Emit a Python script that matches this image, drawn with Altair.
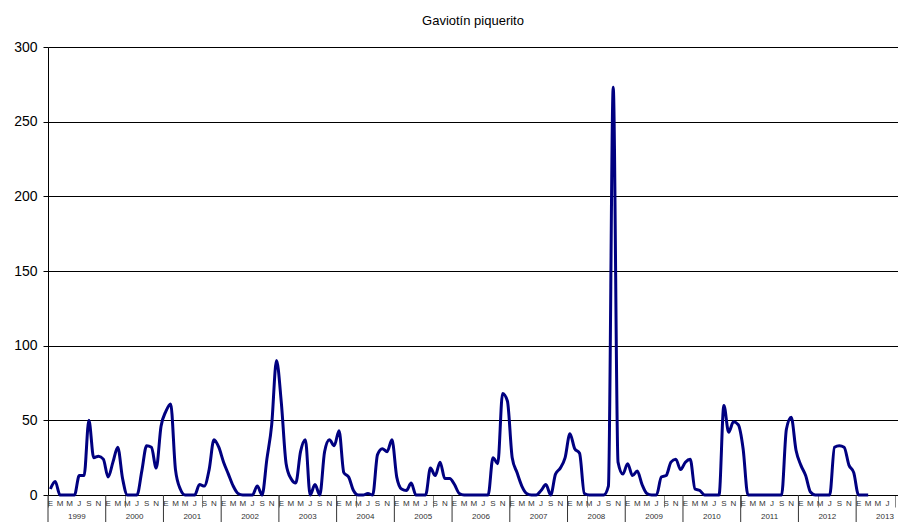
import altair as alt
import pandas as pd

# Monthly counts (Jan 1999 .. Mar 2013)
y1999 = [4, 9, 0, 0, 0, 0, 13, 13, 50, 25, 26, 24]
y2000 = [12, 22, 32, 11, 0, 0, 0, 16, 33, 32, 18, 46]
y2001 = [56, 61, 17, 4, 0, 0, 0, 7, 6, 17, 37, 32]
y2002 = [22, 14, 6, 1, 0, 0, 0, 6, 0, 24, 47, 90]
y2003 = [62, 21, 11, 8, 29, 37, 0, 7, 0, 29, 37, 33]
y2004 = [43, 15, 12, 3, 0, 0, 1, 0, 27, 31, 29, 37]
y2005 = [12, 4, 3, 8, 0, 0, 0, 18, 13, 22, 11, 11]
y2006 = [7, 1, 0, 0, 0, 0, 0, 0, 25, 21, 68, 63]
y2007 = [25, 15, 6, 1, 0, 0, 3, 7, 0, 14, 18, 25]
y2008 = [41, 31, 28, 1, 0, 0, 0, 0, 6, 273, 22, 14]
y2009 = [21, 13, 16, 7, 1, 0, 0, 12, 13, 22, 24, 17]
y2010 = [22, 24, 4, 3, 0, 0, 0, 0, 60, 42, 49, 47]
y2011 = [31, 0, 0, 0, 0, 0, 0, 0, 0, 44, 52, 30]
y2012 = [20, 13, 2, 0, 0, 0, 0, 32, 33, 32, 20, 15]
y2013 = [0, 0, 0]

month_letters = ["E", "F", "M", "A", "M", "J", "J", "A", "S", "O", "N", "D"]
year_labels = ["1999", "2000", "2001", "2002", "2003", "2004", "2005", "2006",
               "2007", "2008", "2009", "2010", "2011", "2012", "2013"]
y_ticks = [0, 50, 100, 150, 200, 250, 300]

values = (y1999 + y2000 + y2001 + y2002 + y2003 + y2004 + y2005 + y2006 +
          y2007 + y2008 + y2009 + y2010 + y2011 + y2012 + y2013)

W, H = 850, 448
XMAX = 176.7

df = pd.DataFrame({"m": [i + 0.5 for i in range(len(values))], "v": values})
month_df = pd.DataFrame({
    "m": [i + 0.5 for i in range(0, 175, 2)],
    "lab": [month_letters[i % 12] for i in range(0, 175, 2)],
})
year_df = pd.DataFrame({
    "start": [12 * k for k in range(len(year_labels))],
    "mid": [12 * k + 6 for k in range(len(year_labels))],
    "lab": year_labels,
})

xscale = alt.Scale(domain=[0, XMAX], nice=False, zero=False)
yscale = alt.Scale(domain=[0, 300], nice=False)

line = alt.Chart(df).mark_line(
    color="#000080", strokeWidth=3, interpolate="monotone", clip=False
).encode(
    x=alt.X("m:Q", scale=xscale, title=None,
            axis=alt.Axis(values=list(range(0, 177)), labels=False, grid=False,
                          tickSize=12, tickColor="#888888", domainColor="#000000",
                          domainWidth=1)),
    y=alt.Y("v:Q", scale=yscale, title=None,
            axis=alt.Axis(values=y_ticks, grid=True, gridColor="#000000",
                          gridOpacity=1, gridWidth=1, domainColor="#000000",
                          tickColor="#000000", tickSize=5, labelFontSize=14,
                          labelColor="#000000", labelFont="Liberation Sans",
                          labelPadding=6)),
)

year_rules = alt.Chart(year_df).mark_rule(color="#333333", strokeWidth=1).encode(
    x=alt.X("start:Q", scale=xscale),
    y=alt.value(H),
    y2=alt.value(H + 30),
)

month_text = alt.Chart(month_df).mark_text(
    fontSize=8, font="Liberation Sans", color="#333333", baseline="middle"
).encode(
    x=alt.X("m:Q", scale=xscale),
    y=alt.value(H + 9),
    text="lab:N",
)

year_text = alt.Chart(year_df).mark_text(
    fontSize=8, font="Liberation Sans", color="#333333", baseline="top"
).encode(
    x=alt.X("mid:Q", scale=xscale),
    y=alt.value(H + 18),
    text="lab:N",
)

chart = alt.layer(line, year_rules, month_text, year_text).properties(
    width=W,
    height=H,
    title=alt.TitleParams("Gaviotín piquerito", fontSize=13, fontWeight="normal",
                          font="Liberation Sans", color="#000000", offset=12,
                          anchor="middle"),
    padding={"left": 40, "top": 39, "right": 0, "bottom": 27},
    autosize=alt.AutoSizeParams(type="none"),
).configure_view(stroke=None)

chart.save("out.html", embed_options={"renderer": "svg", "actions": False})
